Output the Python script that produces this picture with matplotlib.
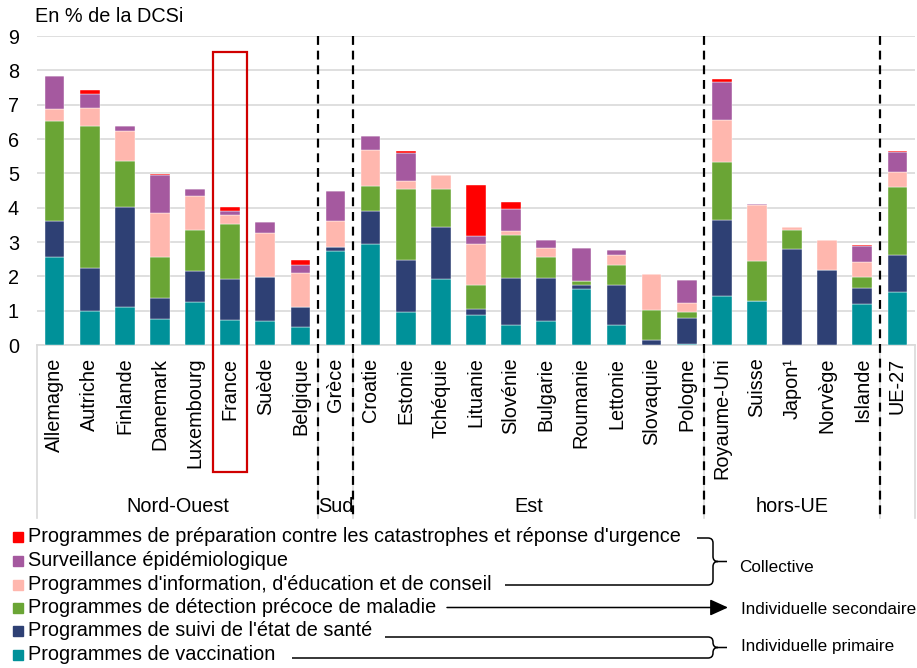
import matplotlib
matplotlib.use("Agg")
import matplotlib.pyplot as plt
import numpy as np
from matplotlib.path import Path
from matplotlib.patches import PathPatch, Rectangle, FancyArrowPatch
from matplotlib.transforms import blended_transform_factory

plt.rcParams['font.family'] = ['Liberation Sans', 'DejaVu Sans']

# ---------------- data ----------------
countries = ["Allemagne", "Autriche", "Finlande", "Danemark", "Luxembourg", "France",
             "Suède", "Belgique", "Grèce", "Croatie", "Estonie", "Tchéquie", "Lituanie",
             "Slovénie", "Bulgarie", "Roumanie", "Lettonie", "Slovaquie", "Pologne",
             "Royaume-Uni", "Suisse", "Japon¹", "Norvège", "Islande", "UE-27"]

vaccination = [2.56, 1.00, 1.10, 0.77, 1.24, 0.72, 0.70, 0.53, 2.74, 2.94, 0.95, 1.92, 0.87,
               0.59, 0.69, 1.64, 0.58, 0.00, 0.03, 1.42, 1.27, 0.00, 0.00, 1.20, 1.55]
suivi = [1.04, 1.25, 2.93, 0.61, 0.92, 1.19, 1.29, 0.59, 0.10, 0.95, 1.54, 1.52, 0.18,
         1.37, 1.27, 0.11, 1.18, 0.14, 0.75, 2.22, 0.00, 2.81, 2.19, 0.47, 1.07]
detection = [2.93, 4.13, 1.33, 1.19, 1.19, 1.62, 0.00, 0.00, 0.00, 0.73, 2.04, 1.09, 0.71,
             1.23, 0.59, 0.12, 0.57, 0.88, 0.18, 1.70, 1.17, 0.55, 0.00, 0.32, 1.97]
information = [0.35, 0.52, 0.88, 1.27, 1.00, 0.26, 1.28, 0.99, 0.77, 1.07, 0.24, 0.41, 1.18,
               0.14, 0.28, 0.00, 0.29, 1.04, 0.26, 1.21, 1.65, 0.08, 0.86, 0.44, 0.45]
surveillance = [0.95, 0.41, 0.13, 1.12, 0.19, 0.10, 0.30, 0.22, 0.87, 0.39, 0.82, 0.00, 0.23,
                0.64, 0.24, 0.95, 0.16, 0.00, 0.67, 1.12, 0.03, 0.00, 0.00, 0.45, 0.57]
preparation = [0.00, 0.12, 0.00, 0.02, 0.00, 0.13, 0.00, 0.15, 0.00, 0.02, 0.06, 0.00, 1.49,
               0.19, 0.00, 0.00, 0.00, 0.00, 0.00, 0.09, 0.00, 0.00, 0.00, 0.04, 0.05]

series_names = ["Programmes de vaccination",
                "Programmes de suivi de l'état de santé",
                "Programmes de détection précoce de maladie",
                "Programmes d'information, d'éducation et de conseil",
                "Surveillance épidémiologique",
                "Programmes de préparation contre les catastrophes et réponse d'urgence"]
series_values = [vaccination, suivi, detection, information, surveillance, preparation]
colors = ["#009199", "#2E4074", "#6AA535", "#FFB7AE", "#A5599F", "#FF0000"]

groups = ["Nord-Ouest", "Sud", "Est", "hors-UE", ""]
group_sizes = [8, 1, 10, 5, 1]
highlight = "France"

yticks = [0, 1, 2, 3, 4, 5, 6, 7, 8, 9]
ylabel_text = "En % de la DCSi"

# ---------------- figure ----------------
W, H = 917, 668
fig = plt.figure(figsize=(W / 100, H / 100), dpi=100)

def fx(px):
    return px / W

def fy(py):
    return 1 - py / H

ax = fig.add_axes([fx(37), fy(345), (915 - 37) / W, 309 / H])

x = np.arange(len(countries))
bottom = np.zeros(len(countries))
for vals, col in zip(series_values, colors):
    ax.bar(x, vals, bottom=bottom, width=0.56, color=col, edgecolor="white",
           linewidth=0.3, zorder=3)
    bottom += np.array(vals)

ax.set_xlim(-0.5, len(countries) - 0.5)
ax.set_ylim(0, 9)
ax.set_yticks(yticks)
ax.yaxis.grid(True, color="#D9D9D9", linewidth=1.2, zorder=0)
ax.set_axisbelow(True)
for s in ["top", "right", "left"]:
    ax.spines[s].set_visible(False)
ax.spines["bottom"].set_color("#D9D9D9")
ax.spines["bottom"].set_linewidth(1.2)
ax.tick_params(axis="both", length=0, labelsize=14.3, colors="black")
ax.tick_params(axis="y", pad=13)
ax.set_xticks(x)
ax.set_xticklabels(countries, rotation=90, va="top", ha="center")
ax.tick_params(axis="x", pad=9)

# title-like y label
fig.text(fx(35), fy(16), ylabel_text, fontsize=14.3, ha="left", va="center")

trans = blended_transform_factory(ax.transData, ax.transAxes)

def yfrac(py):
    return (345 - py) / 309

# group boundaries and labels
bounds = np.concatenate([[0], np.cumsum(group_sizes)]) - 0.5
for b in bounds:
    ax.plot([b, b], [0, yfrac(518)], transform=trans, color="#D9D9D9",
            linewidth=1.2, clip_on=False, zorder=1)
for g, a, b in zip(groups, bounds[:-1], bounds[1:]):
    if g:
        ax.text((a + b) / 2, yfrac(507), g, transform=trans, ha="center",
                va="center", fontsize=14.3)

# dashed separators (interior boundaries)
for b in bounds[1:-1]:
    ax.plot([b, b], [1.0, yfrac(515)], transform=trans, color="black",
            linewidth=1.6, linestyle=(0, (4, 2.6)), clip_on=False, zorder=5)

# highlight box
hi = countries.index(highlight)
ax.add_patch(Rectangle((hi - 0.49, yfrac(471.7)), 0.98, yfrac(51.7) - yfrac(471.7),
                       transform=trans, fill=False, edgecolor="#D00000",
                       linewidth=1.6, clip_on=False, zorder=6))

# ---------------- manual legend ----------------
row_y = [537, 560.5, 584.5, 607.5, 631, 655]
for i, (name, col) in enumerate(zip(series_names[::-1], colors[::-1])):
    yc = row_y[i]
    fig.patches.append(Rectangle((fx(13), fy(yc + 5)), 10 / W, 10 / H, color=col,
                                 transform=fig.transFigure, figure=fig))
    fig.text(fx(28), fy(yc), name, fontsize=14.3, ha="left", va="center")

def fig_path(verts, codes):
    v = [(fx(a), fy(b)) for a, b in verts]
    return PathPatch(Path(v, codes), transform=fig.transFigure, fill=False,
                     edgecolor="black", linewidth=1.1, figure=fig)

M, L, C3 = Path.MOVETO, Path.LINETO, Path.CURVE3

def brace(y_top, y_bot, x_top_start, x_bot_start, xb=713, tip=727):
    ym = (y_top + y_bot) / 2
    verts = [(x_top_start, y_top), (xb - 5, y_top), (xb, y_top), (xb, y_top + 5),
             (xb, ym - 5), (xb, ym), (xb + 5, ym), (tip, ym),
             (x_bot_start, y_bot), (xb - 5, y_bot), (xb, y_bot), (xb, y_bot - 5),
             (xb, ym + 5), (xb, ym), (xb + 5, ym)]
    codes = [M, L, C3, C3, L, C3, C3, L,
             M, L, C3, C3, L, C3, C3]
    fig.patches.append(fig_path(verts, codes))
    return ym

ym1 = brace(538, 585, 697, 505)
fig.text(fx(739), fy(567), "Collective", fontsize=12.3, ha="left", va="center")

arrow = FancyArrowPatch((fx(447), fy(607.5)), (fx(728), fy(607.5)),
                        transform=fig.transFigure, figure=fig,
                        arrowstyle="-|>,head_length=11,head_width=5",
                        mutation_scale=1, color="black", linewidth=1.1,
                        shrinkA=0, shrinkB=0)
fig.patches.append(arrow)
fig.text(fx(741), fy(609), "Individuelle secondaire", fontsize=12.3, ha="left", va="center")

ym2 = brace(637, 658, 385, 292)
fig.text(fx(741), fy(647), "Individuelle primaire", fontsize=12.3, ha="left", va="center")

fig.savefig("out.png", dpi=100)
